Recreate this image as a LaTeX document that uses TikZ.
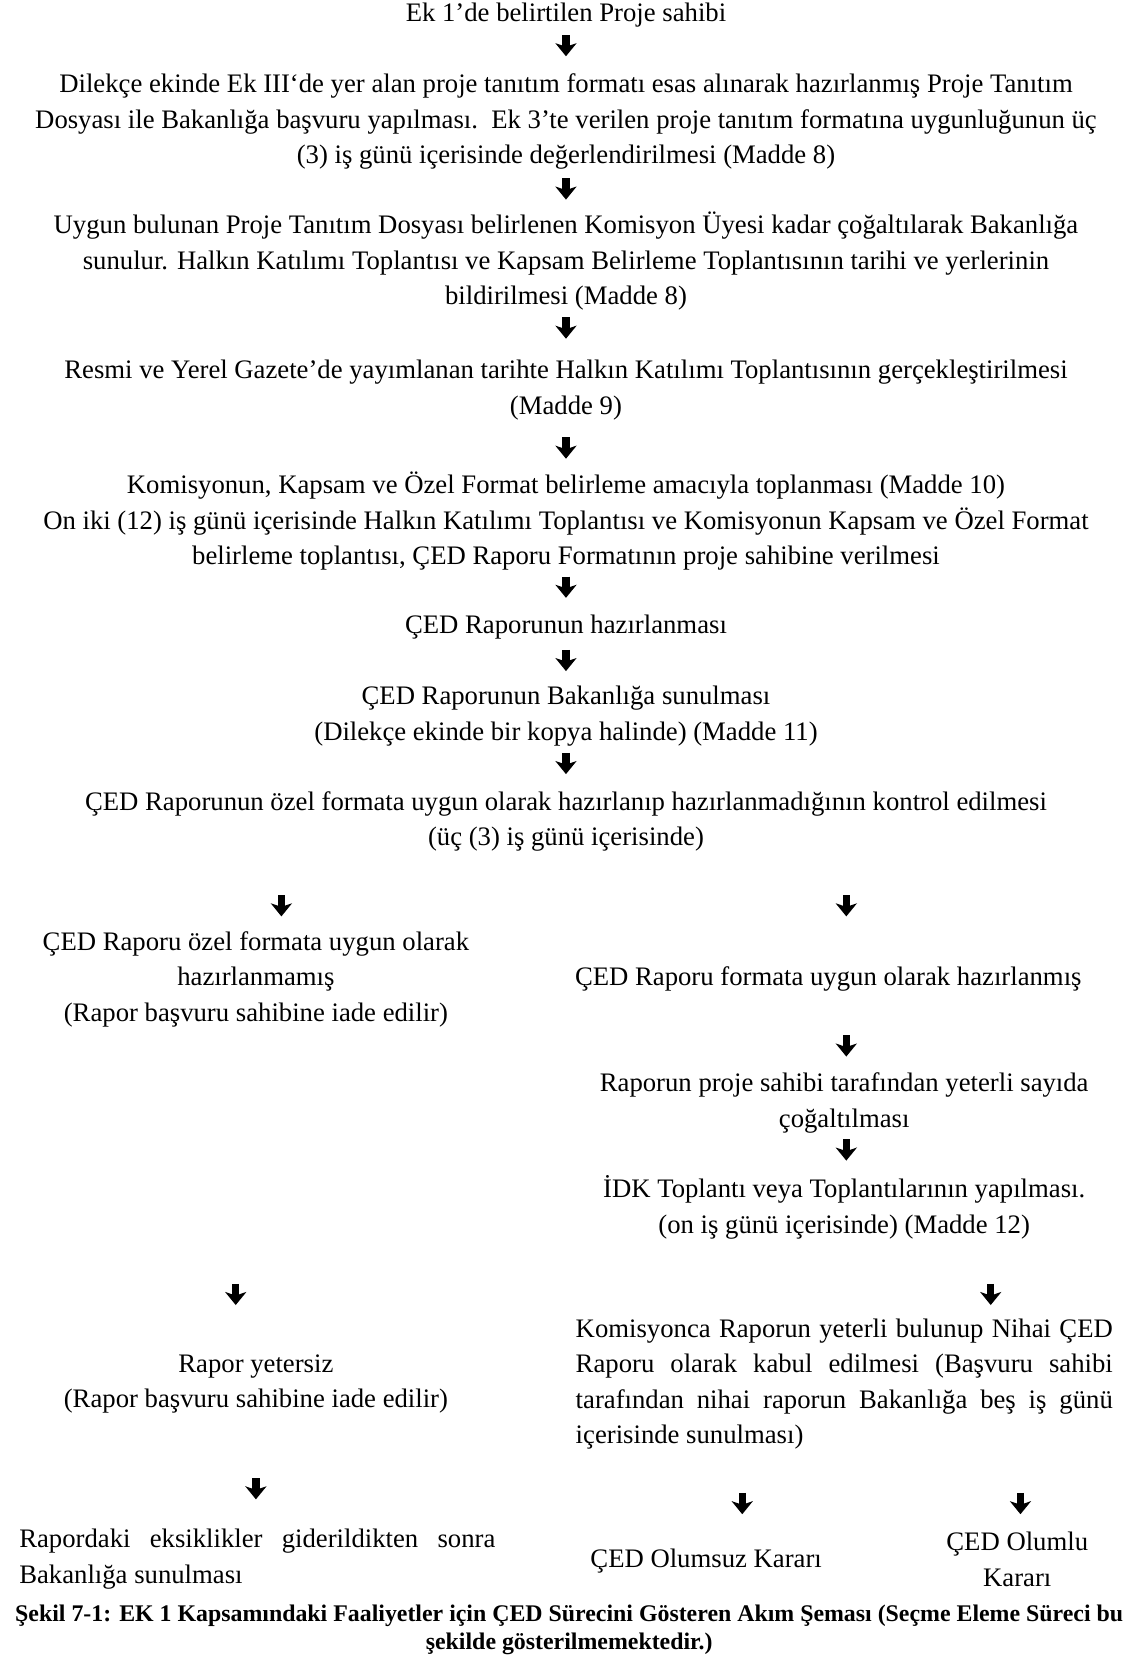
\documentclass[tikz,border=0pt]{standalone}
\usepackage{fontspec}
\setmainfont{Liberation Serif}
\usetikzlibrary{arrows.meta}
\newcommand{\bodyfnt}{\fontsize{26.7bp}{35.5bp}\selectfont}
\newcommand{\capfnt}{\fontsize{23.85bp}{27.6bp}\selectfont\bfseries}
\tikzset{
  txt/.style={font=\bodyfnt, inner sep=0pt, align=center},
  captxt/.style={font=\capfnt, inner sep=0pt, align=center},
  arr/.style={line width=7.5bp, -{Stealth[length=13bp,width=21bp,inset=3.5bp]}},
}
\begin{document}
\begin{tikzpicture}[x=1.0617bp,y=-1.0617bp]
\useasboundingbox (0,0) rectangle (1070,1568);
\fill[white] (0,0) rectangle (1070,1568);

% main column
\node[txt] (b1) at (533,14) {Ek 1’de belirtilen Proje sahibi};
\node[txt] (b2) at (533,114.7) {Dilekçe ekinde Ek III‘de yer alan proje tanıtım formatı esas alınarak hazırlanmış Proje Tanıtım\\
Dosyası ile Bakanlığa başvuru yapılması.\ \ Ek 3’te verilen proje tanıtım formatına uygunluğunun üç\\
(3) iş günü içerisinde değerlendirilmesi (Madde 8)};
\node[txt] (b3) at (533,246) {Uygun bulunan Proje Tanıtım Dosyası belirlenen Komisyon Üyesi kadar çoğaltılarak Bakanlığa\\
sunulur. Halkın Katılımı Toplantısı ve Kapsam Belirleme Toplantısının tarihi ve yerlerinin\\
bildirilmesi (Madde 8)};
\node[txt] (b4) at (533,367.5) {Resmi ve Yerel Gazete’de yayımlanan tarihte Halkın Katılımı Toplantısının gerçekleştirilmesi\\
(Madde 9)};
\node[txt] (b5) at (533,491) {Komisyonun, Kapsam ve Özel Format belirleme amacıyla toplanması (Madde 10)\\
On iki (12) iş günü içerisinde Halkın Katılımı Toplantısı ve Komisyonun Kapsam ve Özel Format\\
belirleme toplantısı, ÇED Raporu Formatının proje sahibine verilmesi};
\node[txt] (b6) at (533,591) {ÇED Raporunun hazırlanması};
\node[txt] (b7) at (533,674.5) {ÇED Raporunun Bakanlığa sunulması\\
(Dilekçe ekinde bir kopya halinde) (Madde 11)};
\node[txt] (b8) at (533,773.5) {ÇED Raporunun özel formata uygun olarak hazırlanıp hazırlanmadığının kontrol edilmesi\\
(üç (3) iş günü içerisinde)};

% branches
\node[txt] (l1) at (241,922) {ÇED Raporu özel formata uygun olarak\\
hazırlanmamış\\
(Rapor başvuru sahibine iade edilir)};
\node[txt] (r1) at (780,922) {ÇED Raporu formata uygun olarak hazırlanmış};
\node[txt] (r2) at (795,1038.5) {Raporun proje sahibi tarafından yeterli sayıda\\
çoğaltılması};
\node[txt] (r3) at (795,1137) {İDK Toplantı veya Toplantılarının yapılması.\\
(on iş günü içerisinde) (Madde 12)};
\node[txt] (l2) at (241,1303.5) {Rapor yetersiz\\
(Rapor başvuru sahibine iade edilir)};
\node[txt, anchor=west, align=left] (r4) at (542,1303.5) {\makebox[537bp][s]{Komisyonca Raporun yeterli bulunup Nihai ÇED}\\
\makebox[537bp][s]{Raporu olarak kabul edilmesi (Başvuru sahibi}\\
\makebox[537bp][s]{tarafından nihai raporun Bakanlığa beş iş günü}\\
içerisinde sunulması)};
\node[txt, anchor=west, align=left] (l3) at (18,1468.5) {\makebox[476bp][s]{Rapordaki eksiklikler giderildikten sonra}\\
Bakanlığa sunulması};
\node[txt] (m1) at (665,1470) {ÇED Olumsuz Kararı};
\node[txt] (r5) at (958,1468.5) {ÇED Olumlu\\
Kararı};

% caption
\node[captxt] (cap) at (536,1535) {Şekil 7-1: EK 1 Kapsamındaki Faaliyetler için ÇED Sürecini Gösteren Akım Şeması (Seçme Eleme Süreci bu\\
şekilde gösterilmemektedir.)};

% arrows
\foreach \n/\x/\y in {a1/533/43, a2/533/178, a3/533/309, a4/533/422, a5/533/553, a6/533/622, a7/533/719,
  aL1/265/853, aR1/797/853, aR2/797/985, aR3/797/1083, aL2/222/1219, aR4/933/1219,
  aL3/241/1402, aM/699/1416, aR5/961/1416}{
  \coordinate (\n s) at (\x,\y-10);
  \coordinate (\n e) at (\x,\y+10);
  \draw[arr] (\n s) -- (\n e);
}
\end{tikzpicture}
\end{document}
